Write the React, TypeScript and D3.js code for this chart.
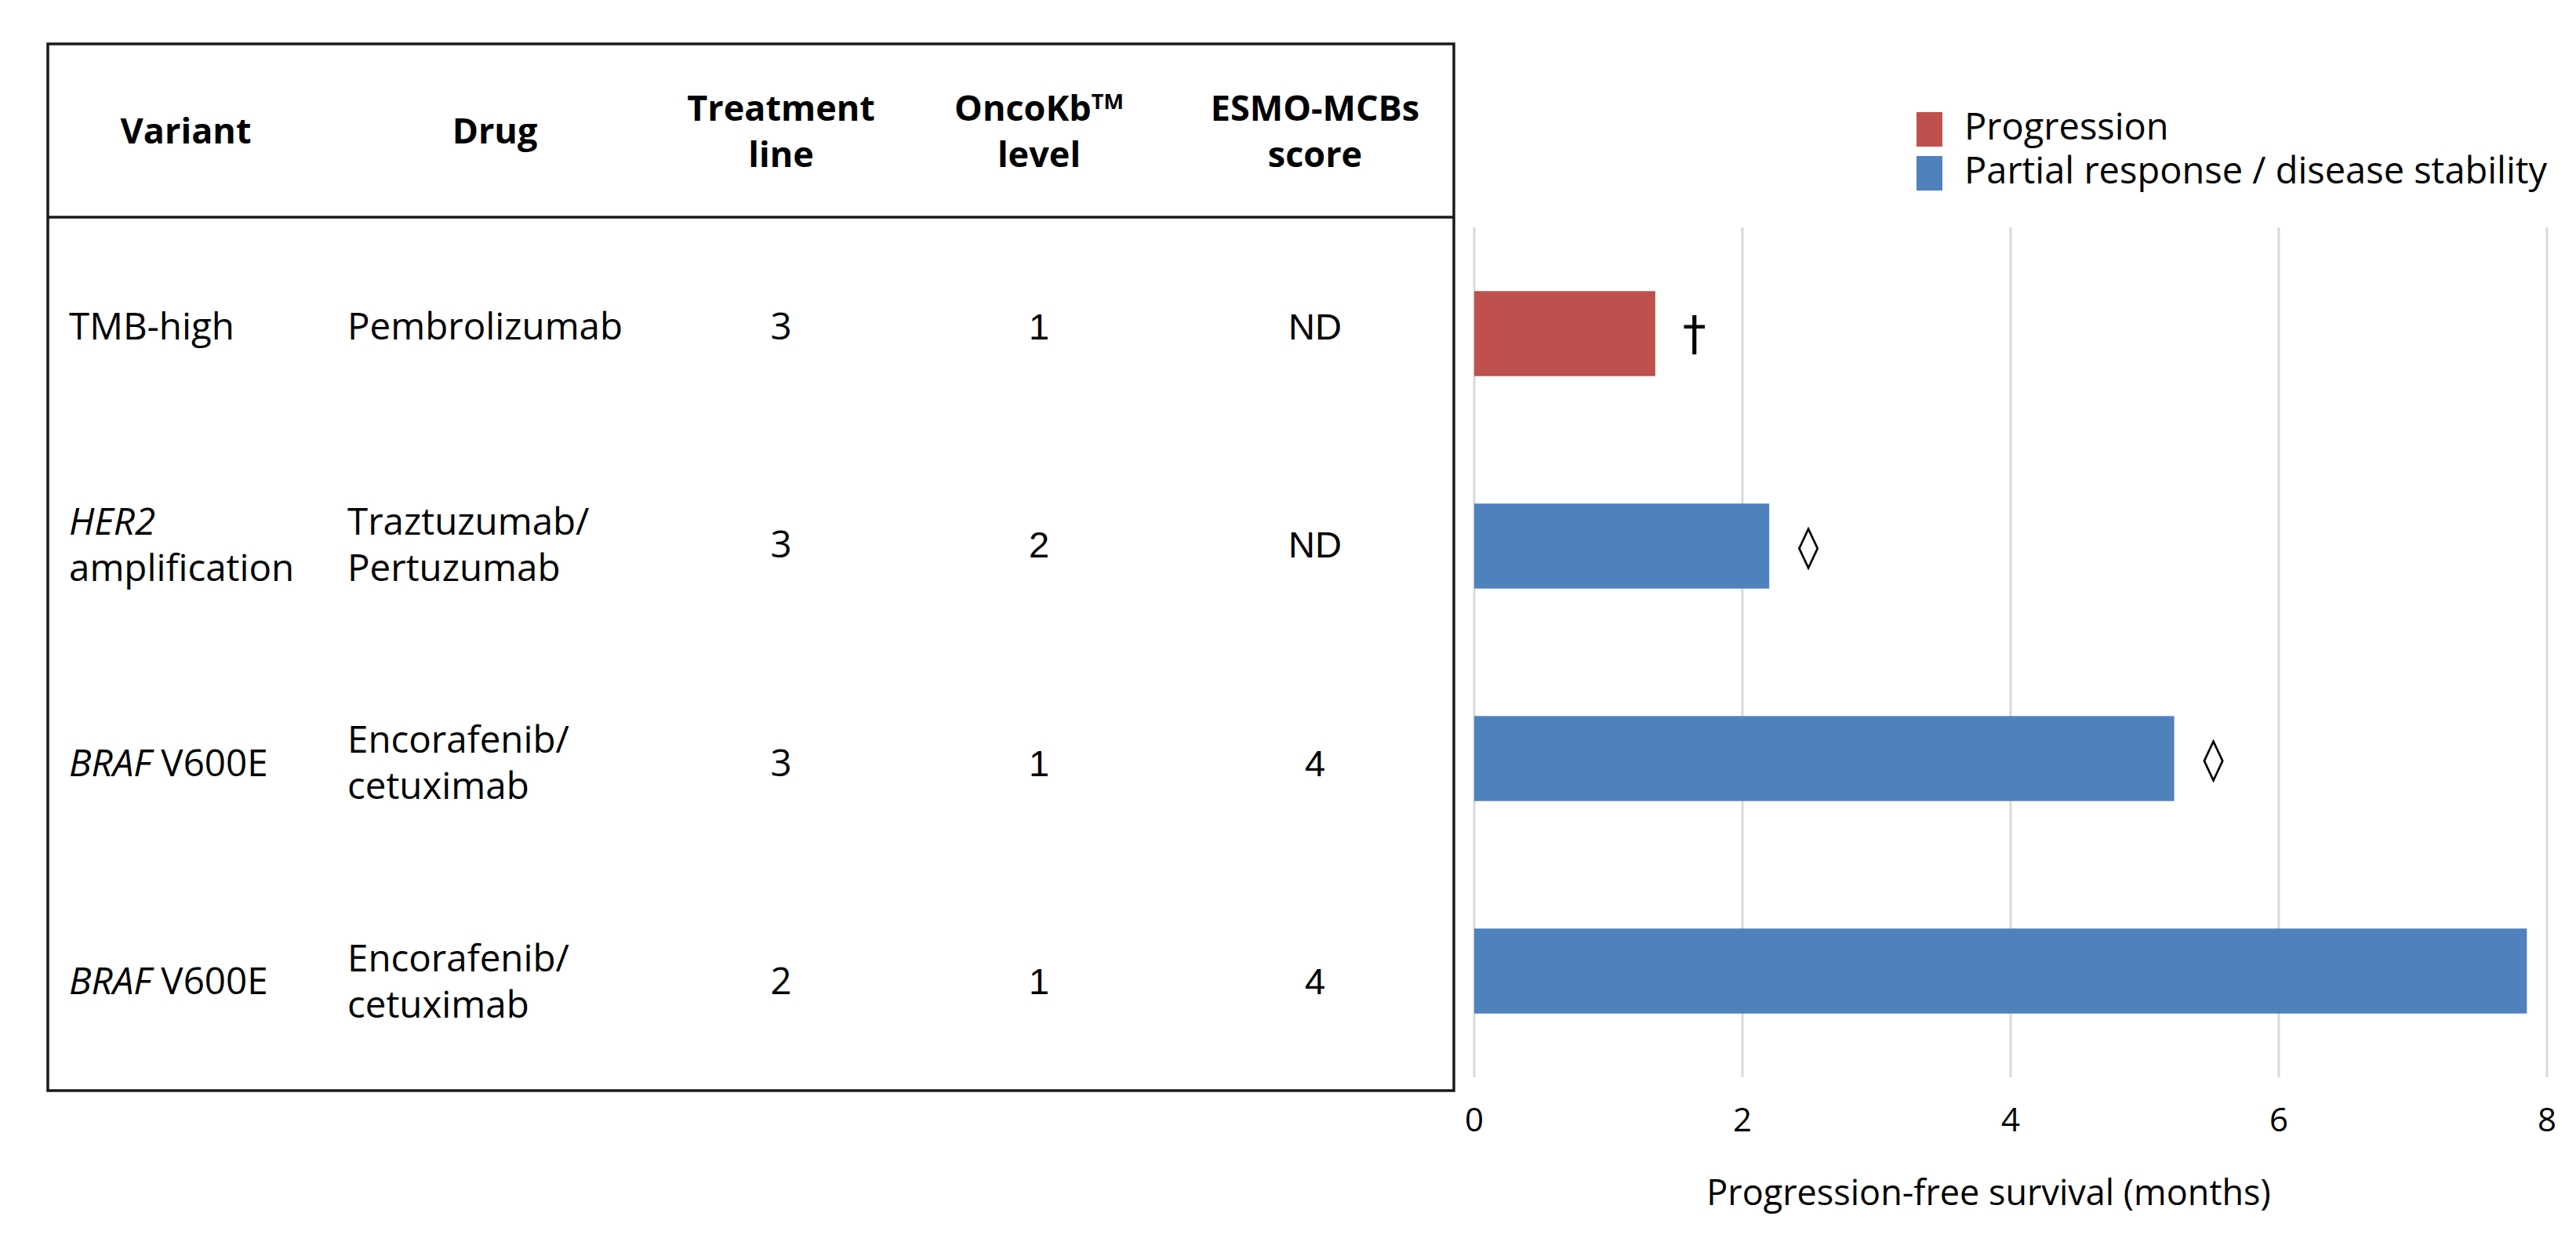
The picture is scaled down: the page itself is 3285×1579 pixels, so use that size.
import React, { useRef, useEffect } from 'react';
import * as d3 from 'd3';

// Table contents (one entry per patient row)
const headerLines: string[][] = [
  ['Variant'],
  ['Drug'],
  ['Treatment', 'line'],
  ['OncoKb^TM', 'level'],
  ['ESMO-MCBs', 'score'],
];
// *text* marks italic gene names
const variantLines: string[][] = [
  ['TMB-high'],
  ['*HER2*', 'amplification'],
  ['*BRAF* V600E'],
  ['*BRAF* V600E'],
];
const drugLines: string[][] = [
  ['Pembrolizumab'],
  ['Traztuzumab/', 'Pertuzumab'],
  ['Encorafenib/', 'cetuximab'],
  ['Encorafenib/', 'cetuximab'],
];
const treatmentLine = ['3', '3', '3', '2'];
const oncoKbLevel = ['1', '2', '1', '1'];
const esmoScore = ['ND', 'ND', '4', '4'];

// Chart values
const pfsMonths = [1.35, 2.2, 5.22, 7.85];
const outcome = ['Progression', 'Partial response / disease stability', 'Partial response / disease stability', 'Partial response / disease stability'];
const markers = ['\u2020', '\u25CA', '\u25CA', ''];
const outcomeCategories = ['Progression', 'Partial response / disease stability'];
const outcomeColors = ['#C0504D', '#4F81BD'];
const xTicks = [0, 2, 4, 6, 8];

const W = 3285;
const H = 1579;
const SANS = "'Open Sans', 'Liberation Sans', sans-serif";
const ARIAL = "'Liberation Sans', Arial, sans-serif";

const App: React.FC = () => {
  const svgRef = useRef<SVGSVGElement>(null);

  useEffect(() => {
    if (!svgRef.current) return;
    const svg = d3.select(svgRef.current);
    svg.selectAll('*').remove();

    // ---------- table ----------
    const table = { left: 61, top: 56, right: 1854, bottom: 1391, headerBottom: 277 };
    const lineGap = 59;

    const rowScale = d3.scaleBand<number>()
      .domain(d3.range(variantLines.length))
      .range([table.headerBottom, table.bottom]);

    const colCenters = [237, 631, 996, 1325, 1677];
    const colLefts = [88, 443];

    const t = svg.append('g');

    t.append('rect')
      .attr('x', table.left)
      .attr('y', table.top)
      .attr('width', table.right - table.left)
      .attr('height', table.bottom - table.top)
      .attr('fill', 'none')
      .attr('stroke', '#1a1a1a')
      .attr('stroke-width', 3.5);

    t.append('line')
      .attr('x1', table.left)
      .attr('x2', table.right)
      .attr('y1', table.headerBottom)
      .attr('y2', table.headerBottom)
      .attr('stroke', '#1a1a1a')
      .attr('stroke-width', 3.5);

    // baselines for n lines centred on cy (cap height ~33px)
    const baselines = (cy: number, n: number) =>
      d3.range(n).map(i => cy + 16.5 + (i - (n - 1) / 2) * lineGap);

    // header
    const headCy = (table.top + table.headerBottom) / 2;
    headerLines.forEach((lines, c) => {
      const bl = baselines(headCy, lines.length);
      lines.forEach((ln, i) => {
        const txt = t.append('text')
          .attr('x', colCenters[c])
          .attr('y', bl[i])
          .attr('text-anchor', 'middle')
          .attr('font-family', SANS)
          .attr('font-weight', 'bold')
          .attr('font-size', 45)
          .attr('fill', '#000');
        const parts = ln.split('^');
        txt.append('tspan').text(parts[0]);
        if (parts[1]) {
          txt.append('tspan').attr('font-size', 27).attr('dy', -15).text(parts[1]);
        }
      });
    });

    // rich text with *italic* segments
    const addRich = (x: number, y: number, s: string, anchor: string) => {
      const txt = t.append('text')
        .attr('x', x)
        .attr('y', y)
        .attr('text-anchor', anchor)
        .attr('font-family', SANS)
        .attr('font-size', 47.5)
        .attr('fill', '#000');
      s.split(/(\*[^*]+\*)/).filter(p => p.length).forEach(p => {
        const it = p.startsWith('*');
        txt.append('tspan')
          .attr('font-style', it ? 'italic' : 'normal')
          .text(it ? p.slice(1, -1) : p);
      });
    };

    variantLines.forEach((lines, r) => {
      const cy = rowScale(r)! + rowScale.bandwidth() / 2;
      baselines(cy, lines.length).forEach((y, i) => addRich(colLefts[0], y, lines[i], 'start'));
      const dl = drugLines[r];
      baselines(cy, dl.length).forEach((y, i) => addRich(colLefts[1], y, dl[i], 'start'));

      const y1 = baselines(cy, 1)[0];
      addRich(colCenters[2], y1, treatmentLine[r], 'middle');
      [oncoKbLevel[r], esmoScore[r]].forEach((v, k) => {
        t.append('text')
          .attr('x', colCenters[3 + k])
          .attr('y', y1)
          .attr('text-anchor', 'middle')
          .attr('font-family', ARIAL)
          .attr('font-size', 47)
          .attr('fill', '#000')
          .text(v);
      });
    });

    // ---------- bar chart ----------
    const plot = { left: 1880, right: 3248, top: 290, bottom: 1374 };

    const xScale = d3.scaleLinear().domain([0, 8]).range([plot.left, plot.right]);
    const yScale = d3.scaleBand<number>()
      .domain(d3.range(pfsMonths.length))
      .range([plot.top, plot.bottom])
      .paddingInner(0.6)
      .paddingOuter(0.3);
    const color = d3.scaleOrdinal<string, string>().domain(outcomeCategories).range(outcomeColors);

    const g = svg.append('g');

    g.selectAll('.grid')
      .data(xTicks)
      .enter()
      .append('line')
      .attr('class', 'grid')
      .attr('x1', d => xScale(d))
      .attr('x2', d => xScale(d))
      .attr('y1', plot.top)
      .attr('y2', plot.bottom)
      .attr('stroke', '#d9d9d9')
      .attr('stroke-width', 3);

    g.selectAll('.bar')
      .data(pfsMonths)
      .enter()
      .append('rect')
      .attr('class', 'bar')
      .attr('x', xScale(0))
      .attr('y', (_, i) => yScale(i)!)
      .attr('width', d => xScale(d) - xScale(0))
      .attr('height', yScale.bandwidth())
      .attr('fill', (_, i) => color(outcome[i]));

    g.selectAll('.marker')
      .data(pfsMonths)
      .enter()
      .append('text')
      .attr('class', 'marker')
      .attr('x', d => xScale(d) + 50)
      .attr('y', (_, i) => yScale(i)! + yScale.bandwidth() / 2 + 4)
      .attr('text-anchor', 'middle')
      .attr('dominant-baseline', 'middle')
      .attr('font-family', "'DejaVu Sans', sans-serif")
      .attr('font-size', (_, i) => (i === 0 ? 60 : 54))
      .attr('fill', '#000')
      .text((_, i) => markers[i]);

    g.selectAll('.tick-label')
      .data(xTicks)
      .enter()
      .append('text')
      .attr('class', 'tick-label')
      .attr('x', d => xScale(d))
      .attr('y', 1443)
      .attr('text-anchor', 'middle')
      .attr('font-family', SANS)
      .attr('font-size', 42)
      .attr('fill', '#000')
      .text(d => d3.format('d')(d));

    g.append('text')
      .attr('x', (plot.left + plot.right) / 2 - 28)
      .attr('y', 1537)
      .attr('text-anchor', 'middle')
      .attr('font-family', SANS)
      .attr('font-size', 45)
      .attr('fill', '#000')
      .text('Progression-free survival (months)');

    // legend
    const legend = g.append('g').attr('transform', 'translate(2444, 143)');
    const items = legend.selectAll('.legend-item')
      .data(outcomeCategories)
      .enter()
      .append('g')
      .attr('class', 'legend-item')
      .attr('transform', (_, i) => `translate(0, ${i * 56})`);

    items.append('rect')
      .attr('width', 33)
      .attr('height', 44)
      .attr('fill', d => color(d));

    items.append('text')
      .attr('x', 61)
      .attr('y', 35)
      .attr('font-family', SANS)
      .attr('font-size', 47)
      .attr('fill', '#000')
      .text(d => d);
  }, []);

  return (
    <svg
      ref={svgRef}
      width={W}
      height={H}
      style={{ position: 'absolute', left: 0, top: 0, background: '#fff' }}
    />
  );
};

export default App;
